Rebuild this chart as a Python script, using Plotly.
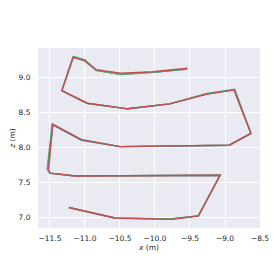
import plotly.graph_objects as go

# Trajectories (x, z in metres)
x_blue = [-11.23, -10.57, -9.76, -9.38, -9.07, -11.14, -11.50, -11.53, -11.46, -11.05, -10.50, -8.94, -8.63, -8.87, -9.26, -9.79, -10.39, -10.97, -11.33, -11.17, -11.01, -10.84, -10.49, -10.03, -9.54]
z_blue = [7.14, 6.99, 6.975, 7.02, 7.60, 7.59, 7.63, 7.68, 8.32, 8.10, 8.01, 8.03, 8.20, 8.82, 8.76, 8.62, 8.55, 8.63, 8.81, 9.29, 9.24, 9.10, 9.045, 9.07, 9.12]

x_green = [-11.23, -10.57, -9.76, -9.38, -9.07, -11.14, -11.50, -11.54, -11.47, -11.05, -10.50, -8.94, -8.63, -8.86, -9.26, -9.79, -10.39, -10.97, -11.33, -11.16, -11.00, -10.84, -10.49, -10.03, -9.54]
z_green = [7.14, 6.985, 6.98, 7.02, 7.60, 7.59, 7.63, 7.69, 8.33, 8.11, 8.01, 8.03, 8.20, 8.83, 8.77, 8.62, 8.55, 8.63, 8.81, 9.30, 9.25, 9.10, 9.04, 9.07, 9.12]

x_red = [-11.23, -10.57, -9.76, -9.38, -9.07, -11.14, -11.50, -11.52, -11.46, -11.05, -10.50, -8.94, -8.63, -8.87, -9.26, -9.79, -10.39, -10.97, -11.33, -11.17, -11.01, -10.84, -10.49, -10.03, -9.54]
z_red = [7.14, 6.99, 6.97, 7.02, 7.60, 7.59, 7.63, 7.68, 8.33, 8.11, 8.01, 8.03, 8.20, 8.82, 8.76, 8.62, 8.55, 8.63, 8.81, 9.29, 9.24, 9.11, 9.06, 9.08, 9.13]

x_ticks = [-11.5, -11.0, -10.5, -10.0, -9.5, -9.0, -8.5]
z_ticks = [7.0, 7.5, 8.0, 8.5, 9.0]

series = [
    (x_blue, z_blue, "#4C72B0"),
    (x_green, z_green, "#55A868"),
    (x_red, z_red, "#C44E52"),
]

fig = go.Figure()
for xs, zs, col in series:
    fig.add_trace(go.Scatter(x=xs, y=zs, mode="lines",
                             line=dict(color=col, width=1.4),
                             showlegend=False, hoverinfo="skip"))

font = dict(family="DejaVu Sans", size=7.5, color="#262626")

# page body has an 8px default margin, so the figure is 269x269 placed at (8, 8)
fig.update_layout(
    width=269, height=269,
    margin=dict(l=30, r=17, t=40, b=49),
    paper_bgcolor="white",
    plot_bgcolor="#EAEAF2",
    font=font,
    xaxis=dict(
        range=[-11.671, -8.5],
        tickvals=x_ticks,
        ticktext=[f"\u2212{abs(v):.1f}" for v in x_ticks],
        showgrid=True, gridcolor="white", gridwidth=1,
        zeroline=False, showline=False, automargin=False,
        ticks="outside", ticklen=3, tickcolor="rgba(0,0,0,0)",
        title=dict(text="<i>x</i> (m)", font=font, standoff=0),
    ),
    yaxis=dict(
        range=[6.847, 9.419],
        tickvals=z_ticks,
        ticktext=[f"{v:.1f}" for v in z_ticks],
        showgrid=True, gridcolor="white", gridwidth=1,
        zeroline=False, showline=False, automargin=False,
        ticks="outside", ticklen=5, tickcolor="rgba(0,0,0,0)",
        title=dict(text="<i>z</i> (m)", font=font, standoff=7),
    ),
)

fig.write_html("out.html")
